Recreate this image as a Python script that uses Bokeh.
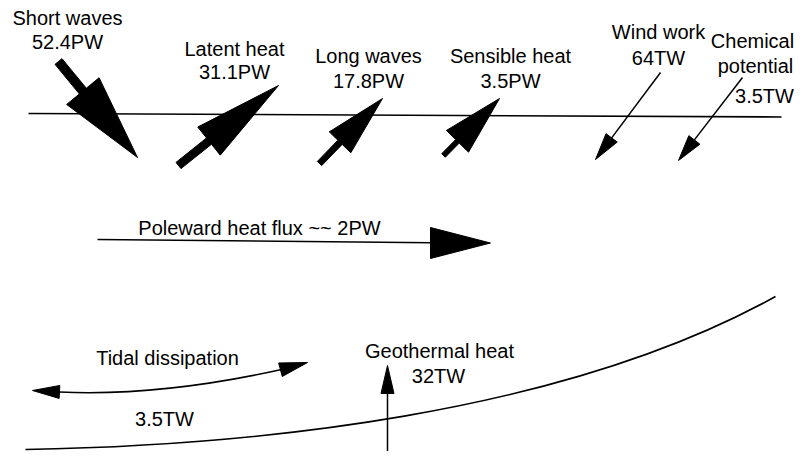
import numpy as np
from bokeh.plotting import figure
from bokeh.models import Range1d, ColumnDataSource
from bokeh.embed import file_html
from bokeh.resources import INLINE
from bokeh.core.properties import value

# ---- data (labels and values of the energy fluxes) ----
surface_names = ["Short waves", "Latent heat", "Long waves", "Sensible heat"]
surface_values = ["52.4PW", "31.1PW", "17.8PW", "3.5PW"]
work_names = ["Wind work", "Chemical\npotential"]
work_values = ["64TW", "3.5TW"]
poleward_label = "Poleward heat flux ~~ 2PW"
tidal_name, tidal_value = "Tidal dissipation", "3.5TW"
geo_name, geo_value = "Geothermal heat", "32TW"

# ---- layout geometry (diagram coordinates in px, y downwards) ----
surface_line = ([28, 781], [113, 116.5])
# thick arrows: tail, tip, head length, head half-width, shaft width
thick_tails = [(58, 61), (178, 165), (319, 163), (443, 155)]
thick_tips = [(137, 157), (278, 85), (382, 98), (499, 98)]
thick_L = [86, 89, 61, 60]
thick_W = [21, 18, 15, 15.5]
thick_S = [9, 8, 6, 5]
# thin arrows (work terms)
thin_tails = [(660, 72), (742, 77)]
thin_tips = [(595, 159), (678, 160)]
thin_L = [27, 26]
thin_W = [7, 7]

# label positions: centre x, baseline of line 1, baseline of line 2
surface_label_pos = [(67, 24, 48), (234, 55, 78), (368, 62, 87), (510, 62, 87)]
MID = 7  # baseline -> middle of capitals

FONT = value("Liberation Sans")
FS = "20px"

W_PX, H_PX = 794, 451
p = figure(width=W_PX, height=H_PX, x_range=Range1d(0, W_PX), y_range=Range1d(H_PX, 0),
           output_backend="svg", toolbar_location=None, min_border=0,
           x_axis_location=None, y_axis_location=None)
p.grid.visible = False
p.outline_line_color = None
p.background_fill_color = "white"
p.border_fill_color = "white"


def arrow_poly(tail, tip, L, W, S=0.0):
    t = np.array(tail, float)
    h = np.array(tip, float)
    d = h - t
    d /= np.linalg.norm(d)
    n = np.array([-d[1], d[0]])
    base = h - d * L
    if S > 0:
        pts = [t + n * S / 2, base + n * S / 2, base + n * W, h,
               base - n * W, base - n * S / 2, t - n * S / 2]
    else:
        pts = [base + n * W, h, base - n * W]
    return [float(q[0]) for q in pts], [float(q[1]) for q in pts], base


# surface line
p.line(surface_line[0], surface_line[1], line_color="black", line_width=1.6)

# thick arrows
xs, ys = [], []
for i in range(len(thick_tails)):
    ax, ay, _ = arrow_poly(thick_tails[i], thick_tips[i], thick_L[i], thick_W[i], thick_S[i])
    xs.append(ax)
    ys.append(ay)
p.patches(xs, ys, fill_color="black", line_color="black", line_width=1)

# thin arrows
hx, hy = [], []
for i in range(len(thin_tails)):
    ax, ay, base = arrow_poly(thin_tails[i], thin_tips[i], thin_L[i], thin_W[i])
    hx.append(ax)
    hy.append(ay)
    p.line([thin_tails[i][0], base[0]], [thin_tails[i][1], base[1]], line_color="black", line_width=1.5)

# poleward heat flux arrow
ax, ay, base = arrow_poly((430, 242.5), (490, 242.5), 60, 15.5)
hx.append(ax)
hy.append(ay)
p.line([97, 431], [239, 242.3], line_color="black", line_width=1.6)

# tidal dissipation double arrow
p.quadratic(x0=[59], y0=[391.5], x1=[281], y1=[369], cx=[160], cy=[396],
            line_color="black", line_width=1.5)
ax, ay, _ = arrow_poly((60, 391.5), (32, 390), 27, 6.5)
hx.append(ax)
hy.append(ay)
ax, ay, _ = arrow_poly((279, 369.5), (307, 362), 28, 7)
hx.append(ax)
hy.append(ay)

# geothermal arrow
ax, ay, base = arrow_poly((387, 470), (387, 365), 28, 6.5)
hx.append(ax)
hy.append(ay)
p.line([387, 387], [470, 392], line_color="black", line_width=1.5)

p.patches(hx, hy, fill_color="black", line_color="black", line_width=1)

# sea floor curve
p.bezier(x0=[25], y0=[449], x1=[775], y1=[296], cx0=[250], cy0=[445], cx1=[560], cy1=[415],
         line_color="black", line_width=1.6)

# ---- texts (x centre, baseline y) ----
tx, ty, tt = [], [], []
for name, val, (cx, y1, y2) in zip(surface_names, surface_values, surface_label_pos):
    tx += [cx, cx]
    ty += [y1, y2]
    tt += [name, val]
# wind work
tx += [658, 658]
ty += [38, 64]
tt += [work_names[0], work_values[0]]
# chemical potential
chem_lines = work_names[1].split("\n")
tx += [752, 755, 764]
ty += [47, 72, 102]
tt += [chem_lines[0], chem_lines[1], work_values[1]]
# poleward
tx.append(259)
ty.append(234)
tt.append(poleward_label)
# tidal
tx += [167, 164]
ty += [364, 425]
tt += [tidal_name, tidal_value]
# geothermal
tx += [439, 438]
ty += [357, 382]
tt += [geo_name, geo_value]

src = ColumnDataSource(dict(x=tx, y=[v - MID for v in ty], t=tt))
p.text(x="x", y="y", text="t", source=src, text_align="center", text_baseline="middle",
       text_font=FONT, text_font_size=FS, text_color="black")

open("out.html", "w").write(file_html(p, INLINE))
